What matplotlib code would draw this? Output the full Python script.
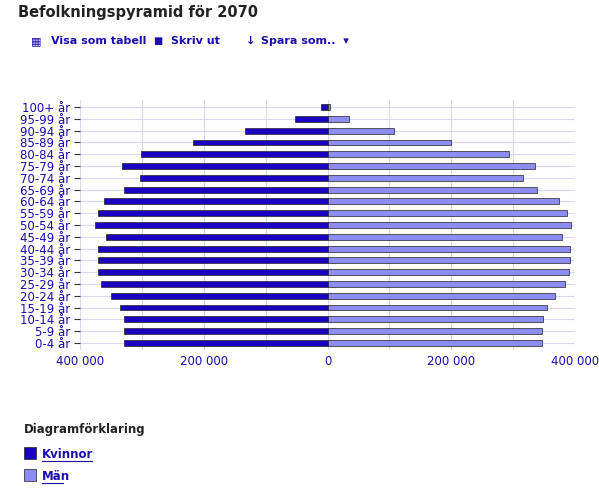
import matplotlib
matplotlib.use("Agg")
import matplotlib.pyplot as plt
from matplotlib.patches import Rectangle
from matplotlib.ticker import FuncFormatter, MultipleLocator

ages = ["0-4 år","5-9 år","10-14 år","15-19 år","20-24 år","25-29 år","30-34 år","35-39 år",
        "40-44 år","45-49 år","50-54 år","55-59 år","60-64 år","65-69 år","70-74 år","75-79 år",
        "80-84 år","85-89 år","90-94 år","95-99 år","100+ år"]
kvinnor = [330000,330000,330000,335000,350000,366000,372000,372000,372000,359000,376000,
           372000,361000,329000,303000,333000,301000,217000,134000,53000,10000]
man = [347000,347000,348000,355000,368000,384000,390000,392000,392000,379000,393000,
       387000,374000,338000,316000,335000,293000,199000,108000,34000,3000]

dark = "#1a00c0"
light = "#8c8cf2"
txt = "#1a0dab"

fig = plt.figure(figsize=(5.99, 5.0), dpi=100)
ax = fig.add_axes([0.134, 0.30, 0.826, 0.50])
y = range(len(ages))
ax.barh(y, [-v for v in kvinnor], height=0.5, color=dark, edgecolor="#222", linewidth=0.5, zorder=3)
ax.barh(y, man, height=0.5, color=light, edgecolor="#222", linewidth=0.5, zorder=3)
ax.set_yticks(list(y))
ax.set_yticklabels(ages, color=txt, fontsize=8.5)
ax.set_ylim(-0.6, len(ages) - 0.4)
ax.set_xlim(-400000, 400000)
ax.xaxis.set_major_locator(MultipleLocator(200000))
ax.xaxis.set_minor_locator(MultipleLocator(100000))
ax.xaxis.set_major_formatter(FuncFormatter(lambda v, p: f"{abs(int(v)):,}".replace(",", " ")))
ax.tick_params(axis="x", colors=txt, labelsize=8.5, length=0)
ax.tick_params(axis="x", which="minor", length=0)
ax.tick_params(axis="y", length=4, color="#333")
ax.grid(True, which="both", axis="x", color="#d8d8f0", linewidth=0.8, zorder=0)
ax.grid(True, axis="y", color="#d8d8f0", linewidth=0.8, zorder=0)
for s in ax.spines.values():
    s.set_visible(False)

fig.text(0.03, 0.965, "Befolkningspyramid för 2070", fontsize=10.5, fontweight="bold", color="#222")
fig.text(0.085, 0.912, "Visa som tabell", fontsize=8, color=txt, fontweight="bold")
fig.text(0.285, 0.912, "Skriv ut", fontsize=8, color=txt, fontweight="bold")
fig.text(0.435, 0.912, "Spara som..  ▾", fontsize=8, color=txt, fontweight="bold")
fig.text(0.052, 0.912, "▦", fontsize=8, color=txt)
fig.text(0.255, 0.912, "■", fontsize=7, color=txt)
fig.text(0.41, 0.912, "↓", fontsize=8, color=txt, fontweight="bold")

fig.text(0.04, 0.133, "Diagramförklaring", fontsize=8.5, fontweight="bold", color="#222")
for i, (lab, c) in enumerate([("Kvinnor", dark), ("Män", light)]):
    yy = 0.083 - i * 0.045
    fig.patches.append(Rectangle((0.04, yy), 0.02, 0.024, transform=fig.transFigure, color=c, ec="#222", lw=0.5))
    fig.text(0.07, yy + 0.002, lab, fontsize=8.5, fontweight="bold", color=txt)
    fig.lines.append(plt.Line2D([0.07, 0.07 + 0.012 * len(lab)], [yy - 0.004, yy - 0.004],
                                transform=fig.transFigure, color=txt, lw=0.8))
fig.savefig("out.png", dpi=100)
